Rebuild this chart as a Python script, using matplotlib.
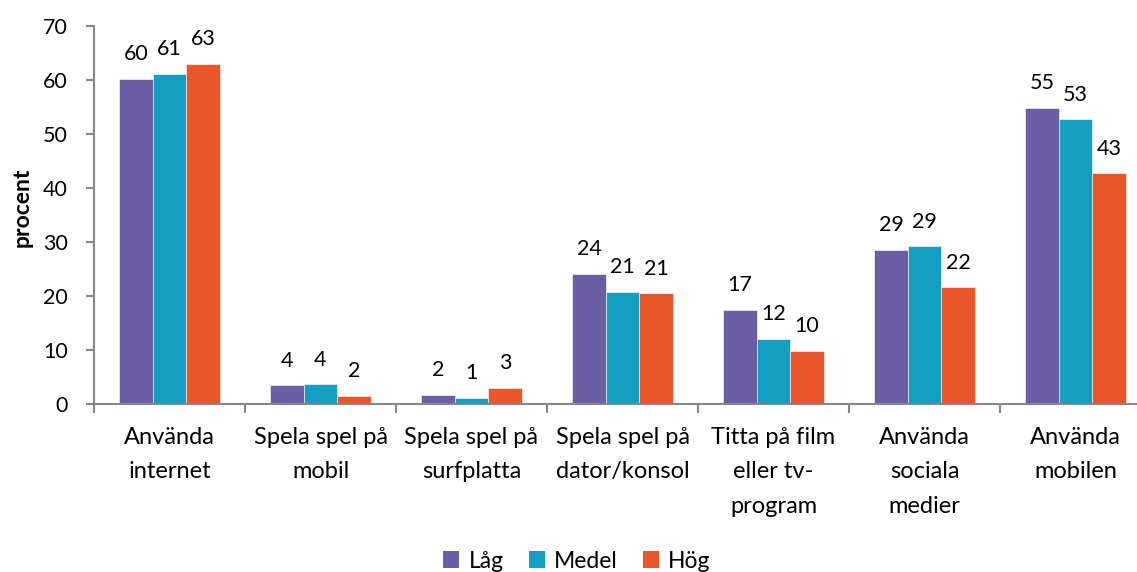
import matplotlib
matplotlib.use("Agg")
import matplotlib.pyplot as plt
import numpy as np
from matplotlib.patches import Patch

categories = ["Använda\ninternet", "Spela spel på\nmobil", "Spela spel på\nsurfplatta",
              "Spela spel på\ndator/konsol", "Titta på film\neller tv-\nprogram",
              "Använda\nsociala\nmedier", "Använda\nmobilen"]
series_names = ["Låg", "Medel", "Hög"]
lag = [60.2, 3.5, 1.7, 24.1, 17.4, 28.5, 54.8]
medel = [61.1, 3.7, 1.2, 20.8, 12.1, 29.2, 52.7]
hog = [62.9, 1.5, 3.1, 20.5, 9.9, 21.6, 42.7]
colors = ["#6B5EA4", "#149EC2", "#E95629"]
yticks = [0, 10, 20, 30, 40, 50, 60, 70]

plt.rcParams['font.family'] = ['Lato', 'DejaVu Sans']
fig = plt.figure(figsize=(11.37, 5.72), dpi=100)
ax = fig.add_axes([94/1137, 1-404.3/572, 151*7/1137, (404.3-25.7)/572])

x = np.arange(len(categories))
w = 0.222
gray = "#878787"
for i, (vals, c) in enumerate(zip([lag, medel, hog], colors)):
    pos = x + (i-1)*w
    ax.bar(pos, vals, width=w, color=c, edgecolor='white', linewidth=0.4)
    for px, v in zip(pos, vals):
        ax.annotate(f"{int(np.floor(v + 0.5))}", (px, v), xytext=(0, 13.5),
                    textcoords='offset points', ha='center', va='baseline',
                    fontsize=15.5, color='black')

ax.set_xlim(-0.5, 6.5)
ax.set_ylim(0, 70)
ax.set_yticks(yticks)
ax.set_xticks(x)
ax.set_xticklabels(categories, fontsize=17, linespacing=1.8, va='top')
ax.set_xticks(np.arange(-0.5, 7, 1), minor=True)
ax.tick_params(axis='x', which='major', length=0, pad=16)
ax.tick_params(axis='x', which='minor', length=6.5, width=1.5, color=gray, direction='out')
ax.tick_params(axis='y', length=6, width=1.5, color=gray, pad=13, labelsize=15.5)
for s in ['top', 'right']:
    ax.spines[s].set_visible(False)
for s in ['left', 'bottom']:
    ax.spines[s].set_color(gray)
    ax.spines[s].set_linewidth(1.5)

fig.text(22/1137, 1-207/572, "procent", rotation=90, ha='center', va='center',
         fontsize=16.5, fontweight='bold')

handles = [Patch(facecolor=c, edgecolor='none') for c in colors]
fig.legend(handles, series_names, loc='center', bbox_to_anchor=(577/1137, 1-561/572),
           ncol=3, frameon=False, fontsize=16.5, handlelength=0.7, handleheight=0.7,
           handletextpad=0.4, columnspacing=1.1)

fig.savefig("out.png", dpi=100)
